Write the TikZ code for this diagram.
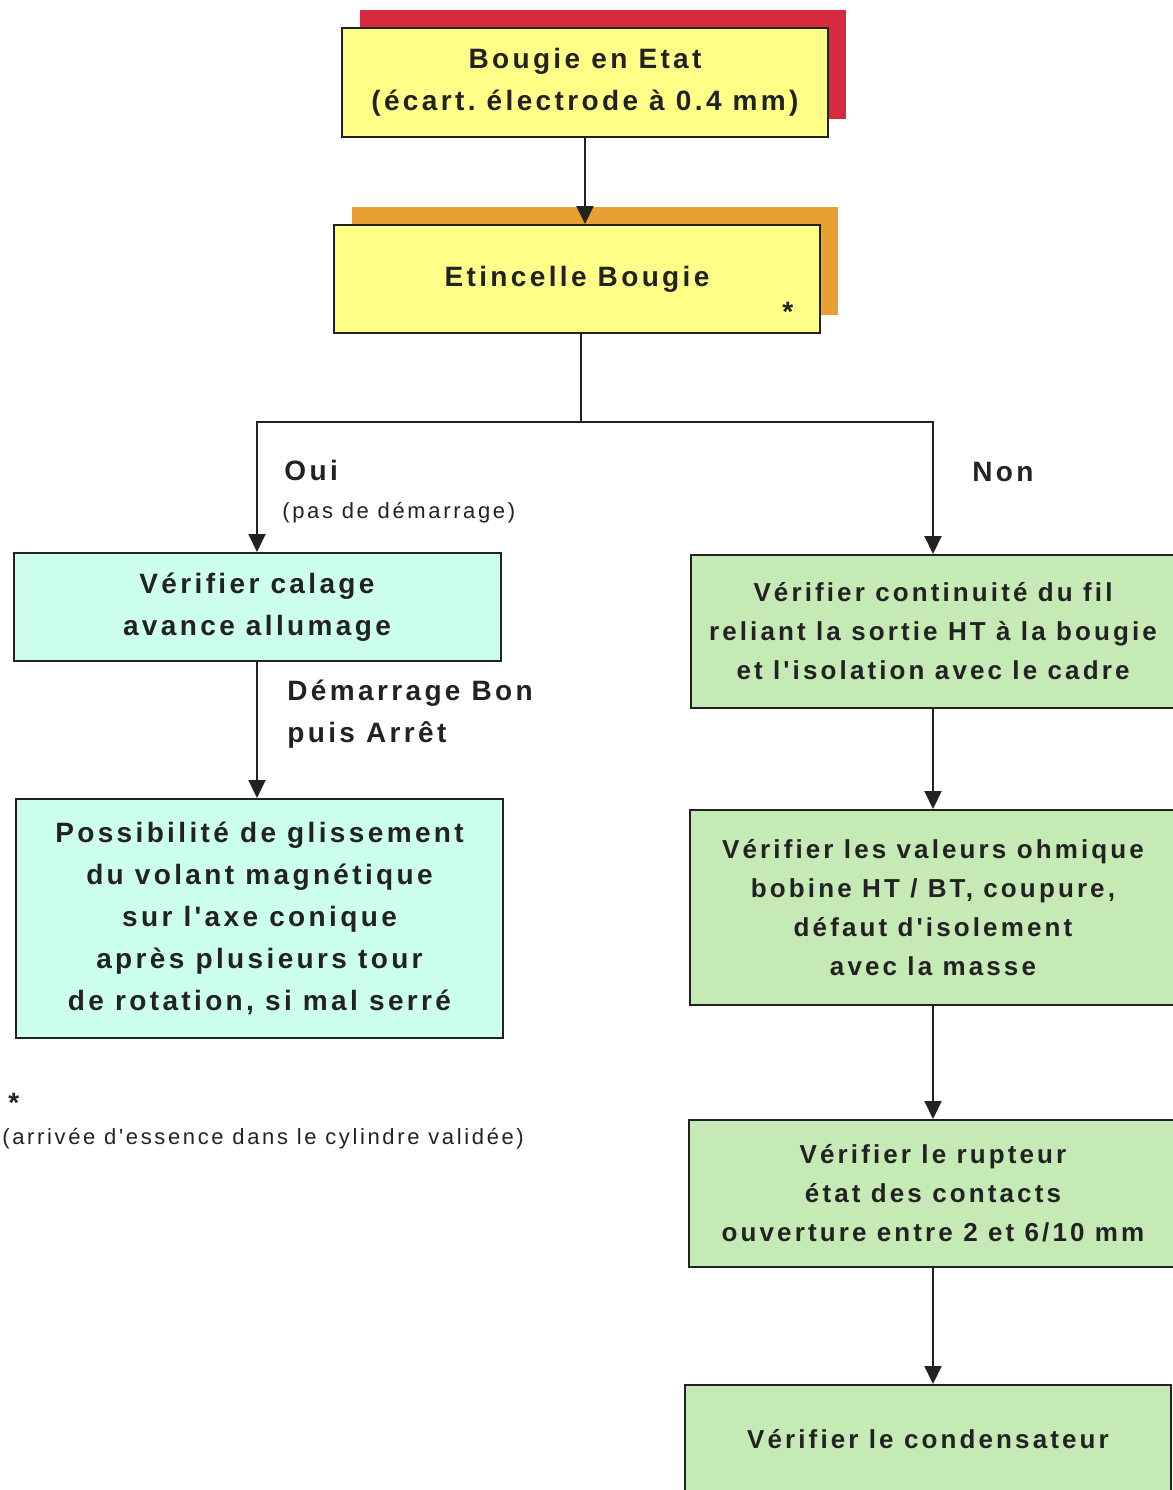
\documentclass[tikz,border=0pt]{standalone}
\usepackage{fontspec}
\setmainfont{Liberation Sans}
\newfontfamily\boitefont[LetterSpace=12]{Liberation Sans}
\usetikzlibrary{arrows.meta,shadows}

\definecolor{jaune}{HTML}{FFFF88}
\definecolor{rouge}{HTML}{D62A3E}
\definecolor{orangeombre}{HTML}{E9A032}
\definecolor{cyanclair}{HTML}{CCFFEE}
\definecolor{vertclair}{HTML}{C6EAB6}
\definecolor{encre}{HTML}{222222}

\tikzset{
	boite/.style={draw=encre, line width=1pt, align=center, inner sep=0pt,
		text=encre, font=\boitefont\bfseries\fontsize{14}{21}\selectfont},
	boitejaune/.style={boite, fill=jaune},
	boitecyan/.style={boite, fill=cyanclair},
	boiteverte/.style={boite, fill=vertclair, font=\boitefont\bfseries\fontsize{13}{19.5}\selectfont},
	ombre/.style={drop shadow={shadow xshift=9pt, shadow yshift=9pt, opacity=1, fill=#1}},
	fleche/.style={-{Triangle[width=8.5pt,length=9pt]}, line width=1pt, draw=encre},
	etiquette/.style={anchor=west, inner sep=0pt, text=encre, font=\boitefont\bfseries\fontsize{14}{21}\selectfont},
	petit/.style={anchor=west, inner sep=0pt, text=encre, font=\boitefont\fontsize{11}{14}\selectfont}
}

\begin{document}
\frenchspacing
\begin{tikzpicture}[x=0.5pt, y=-0.5pt]
	\useasboundingbox (0,0) rectangle (1173,1490);
	\fill[white] (0,0) rectangle (1173,1490);
	\clip (0,0) rectangle (1173,1490);

	% colonne du haut
	\node[boitejaune, ombre=rouge, minimum width=243pt, minimum height=54.5pt] (bougie) at (585,82.5)
		{Bougie en Etat\\(écart. électrode à 0.4 mm)};
	\node[boitejaune, ombre=orangeombre, minimum width=243pt, minimum height=54pt] (etincelle) at (577,279)
		{Etincelle Bougie};
	\node[etiquette] (etoile) at (782,312) {*};

	% branche Oui
	\node[boitecyan, minimum width=243.5pt, minimum height=54pt] (calage) at (257,607)
		{Vérifier calage\\avance allumage};
	\node[boitecyan, minimum width=243.5pt, minimum height=119.5pt] (glissement) at (259.5,918.5)
		{Possibilité de glissement\\du volant magnétique\\sur l'axe conique\\après plusieurs tour\\de rotation, si mal serré};
	\node[etiquette] (oui) at (284,470) {Oui};
	\node[petit] (pasdemarrage) at (282,513) {(pas de démarrage)};
	\node[etiquette, anchor=north west, align=left] (demarrage) at (287,680) {Démarrage Bon\\puis Arrêt};
	\node[etiquette] (note) at (8,1103) {*};
	\node[petit] (notetexte) at (2,1139) {(arrivée d'essence dans le cylindre validée)};

	% branche Non
	\node[etiquette] (non) at (972,472) {Non};
	\node[boiteverte, minimum width=242pt, minimum height=76.5pt] (fil) at (933,631.5)
		{Vérifier continuité du fil\\reliant la sortie HT à la bougie\\et l'isolation avec le cadre};
	\node[boiteverte, minimum width=243pt, minimum height=97.5pt] (ohmique) at (933,907.5)
		{Vérifier les valeurs ohmique\\bobine HT / BT, coupure,\\défaut d'isolement\\avec la masse};
	\node[boiteverte, minimum width=244pt, minimum height=73.5pt] (rupteur) at (933,1193.5)
		{Vérifier le rupteur\\état des contacts\\ouverture entre 2 et 6/10 mm};
	\node[boiteverte, minimum width=243pt, minimum height=54pt] (condensateur) at (928,1439)
		{Vérifier le condensateur};

	\coordinate (branche) at (581,422);

	\draw [fleche] (bougie) to (bougie |- etincelle.north);
	\draw [line width=1pt, draw=encre] (etincelle.south -| branche) to (branche);
	\draw [fleche] (branche) -| (calage.north);
	\draw [fleche] (branche) -| (fil.north);
	\draw [fleche] (calage) to (glissement.north -| calage);
	\draw [fleche] (fil) to (ohmique);
	\draw [fleche] (ohmique) to (rupteur);
	\draw [fleche] (rupteur) to (rupteur |- condensateur.north);
\end{tikzpicture}
\end{document}
